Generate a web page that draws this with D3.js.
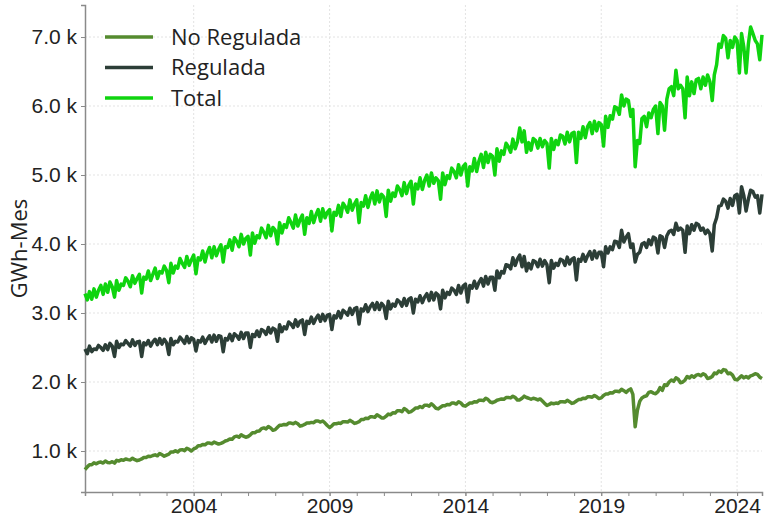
<!DOCTYPE html>
<html>
<head>
<meta charset="utf-8">
<script src="https://cdn.jsdelivr.net/npm/d3@7"></script>
<style>
  body { margin: 0; background: #fff; }
  svg { font-family: "Open Sans", Lato, sans-serif; }
  .grid line { stroke: #e3e3e3; stroke-dasharray: 2,2; }
  .axis path, .axis line { stroke: #8a8a8a; }
  .axis text { fill: #222; font-size: 21px; }
</style>
</head>
<body>
<div id="chart"></div>
<script>
// monthly GWh, Jan 2000 .. Dec 2024 (one row per year)
var noRegulada = [
  [730,770,800,800,830,815,835,840,825,855,835,830],
  [845,825,865,855,875,865,885,875,870,895,875,860],
  [870,885,905,905,925,920,935,945,930,965,945,925],
  [940,955,985,985,1005,985,1015,1020,1005,1040,1025,1000],
  [1030,1045,1075,1075,1095,1090,1115,1115,1105,1130,1115,1100],
  [1110,1125,1145,1155,1175,1170,1205,1215,1200,1235,1215,1200],
  [1210,1235,1265,1265,1285,1290,1325,1335,1320,1355,1335,1300],
  [1310,1345,1375,1375,1385,1380,1405,1405,1395,1415,1395,1360],
  [1370,1385,1405,1405,1415,1410,1435,1435,1420,1435,1405,1370],
  [1340,1365,1395,1395,1405,1400,1425,1425,1420,1445,1425,1400],
  [1410,1425,1455,1455,1475,1470,1495,1495,1490,1525,1505,1480],
  [1480,1505,1535,1525,1555,1550,1585,1585,1570,1615,1595,1560],
  [1570,1595,1625,1625,1645,1630,1665,1665,1650,1685,1655,1620],
  [1610,1635,1655,1655,1675,1670,1695,1695,1680,1715,1695,1660],
  [1650,1675,1695,1695,1715,1710,1735,1735,1730,1765,1745,1710],
  [1700,1715,1735,1745,1755,1750,1775,1775,1770,1795,1775,1740],
  [1740,1765,1795,1775,1765,1750,1765,1755,1740,1755,1725,1690],
  [1660,1675,1695,1685,1695,1690,1715,1715,1710,1735,1715,1690],
  [1700,1725,1745,1745,1765,1760,1785,1785,1780,1805,1785,1760],
  [1770,1805,1825,1825,1845,1840,1865,1865,1860,1895,1875,1850],
  [1880,1900,1820,1350,1590,1720,1770,1790,1800,1850,1860,1840],
  [1830,1860,1920,1880,1960,1950,2000,2030,2010,2060,2040,1990],
  [2000,2030,2080,2060,2090,2070,2100,2110,2090,2120,2100,2050],
  [2060,2080,2130,2120,2160,2140,2180,2170,2120,2130,2100,2040],
  [2030,2060,2090,2060,2080,2060,2090,2100,2120,2110,2070,2050]
];
var regulada = [
  [2480,2410,2520,2440,2480,2470,2530,2500,2460,2540,2470,2560],
  [2520,2370,2590,2500,2550,2540,2600,2560,2520,2610,2530,2580],
  [2590,2370,2570,2540,2600,2520,2580,2620,2540,2630,2550,2620],
  [2570,2400,2630,2540,2590,2580,2650,2610,2560,2660,2570,2640],
  [2620,2450,2600,2580,2650,2560,2620,2670,2580,2680,2590,2670],
  [2660,2440,2630,2610,2690,2600,2700,2670,2620,2720,2630,2710],
  [2710,2500,2690,2660,2740,2660,2760,2740,2690,2790,2710,2780],
  [2760,2590,2830,2730,2800,2770,2870,2840,2790,2900,2810,2880],
  [2900,2690,2880,2850,2940,2850,2920,2970,2880,2980,2890,2970],
  [2980,2760,2960,2930,3020,2930,3040,3010,2970,3070,2980,3060],
  [3080,2840,3060,3030,3120,3020,3090,3140,3050,3150,3050,3140],
  [3100,2920,3170,3060,3130,3100,3190,3160,3100,3210,3110,3200],
  [3220,3000,3200,3160,3250,3150,3230,3280,3180,3300,3190,3290],
  [3260,3060,3330,3220,3300,3270,3360,3330,3270,3400,3290,3390],
  [3420,3160,3400,3360,3460,3360,3440,3500,3390,3530,3420,3520],
  [3520,3330,3610,3510,3600,3580,3700,3690,3640,3800,3690,3780],
  [3840,3670,3820,3610,3720,3640,3760,3740,3670,3780,3680,3760],
  [3700,3440,3760,3650,3720,3690,3780,3760,3690,3810,3710,3780],
  [3800,3480,3780,3750,3850,3750,3830,3890,3780,3900,3800,3880],
  [3880,3670,3960,3870,3960,3920,4040,4030,3950,4200,4030,4100],
  [4150,3950,4000,3740,3850,3880,4000,4020,3950,4060,3990,4100],
  [4080,3870,4120,4100,3950,4120,4180,4200,4140,4300,4200,4230],
  [4200,3880,4260,4150,4280,4200,4300,4280,4200,4230,4150,4200],
  [4150,3900,4280,4380,4550,4560,4650,4620,4520,4660,4560,4700],
  [4720,4450,4830,4700,4480,4650,4780,4760,4680,4700,4450,4720]
];
var total = [
  [3280,3190,3310,3200,3350,3230,3330,3400,3270,3420,3300,3450],
  [3380,3230,3470,3330,3420,3400,3510,3460,3380,3540,3430,3500],
  [3560,3290,3520,3490,3610,3470,3560,3650,3500,3600,3580,3680],
  [3620,3440,3720,3580,3680,3650,3790,3720,3660,3820,3690,3770],
  [3840,3570,3800,3770,3900,3740,3870,3950,3800,3960,3830,3920],
  [3990,3740,3960,3950,4060,3910,4090,4040,3960,4140,4000,4080],
  [4110,3840,4160,4010,4120,4090,4230,4170,4090,4270,4120,4240],
  [4200,4000,4310,4160,4280,4240,4380,4310,4230,4420,4260,4350],
  [4420,4140,4380,4300,4470,4310,4420,4500,4330,4510,4380,4460],
  [4500,4190,4460,4420,4560,4400,4590,4540,4460,4640,4490,4580],
  [4640,4310,4600,4550,4700,4530,4660,4740,4580,4770,4610,4720],
  [4680,4400,4780,4620,4740,4690,4840,4790,4700,4890,4730,4850],
  [4910,4580,4870,4800,4960,4790,4920,5000,4840,5030,4880,4960],
  [4920,4650,5030,4860,4990,4950,5100,5050,4960,5150,5000,5120],
  [5160,4840,5120,5060,5240,5050,5200,5300,5110,5330,5180,5300],
  [5270,5000,5380,5200,5350,5300,5460,5410,5330,5520,5380,5480],
  [5680,5480,5640,5330,5470,5360,5530,5500,5390,5530,5410,5500],
  [5460,5100,5530,5370,5500,5440,5580,5560,5450,5620,5480,5600],
  [5620,5180,5620,5530,5700,5540,5700,5760,5600,5780,5640,5760],
  [5730,5420,5850,5690,5860,5810,5990,5970,5880,6160,6000,6100],
  [6080,5850,5950,5120,5500,5460,5820,5850,5700,5900,5830,5950],
  [6000,5600,6050,6000,5650,6100,6250,6280,6150,6520,6250,6300],
  [6250,5830,6420,6150,6350,6180,6380,6400,6250,6420,6300,6450],
  [6350,6080,6450,6600,6900,6850,7020,6980,6700,6950,6850,7000],
  [6950,6480,7050,6850,6480,6900,7145,7050,6950,6900,6670,7030]
];
var seriesNames = ["No Regulada", "Regulada", "Total"];
var seriesColors = ["#558b2f", "#2c3e37", "#0fd40f"];
var yTicks = [1000, 2000, 3000, 4000, 5000, 6000, 7000];
var xTickYears = [2004, 2009, 2014, 2019, 2024];

var width = 768, height = 523;
var margin = {top: 5, right: 6, bottom: 31, left: 85};

var months = d3.timeMonth.range(new Date(2000, 0, 1), new Date(2025, 0, 1));
var series = [noRegulada, regulada, total].map(function(s, i) {
  return {name: seriesNames[i], color: seriesColors[i],
    values: s.flat().map(function(v, j) { return {date: months[j], value: v}; })};
});

var svg = d3.select("#chart").append("svg")
  .attr("width", width)
  .attr("height", height);

var x = d3.scaleTime()
  .domain([months[0], months[months.length - 1]])
  .range([margin.left, width - margin.right]);

var y = d3.scaleLinear()
  .domain([406, 7464])
  .range([height - margin.bottom, margin.top]);

// grid
svg.append("g").attr("class", "grid")
  .selectAll("line").data(yTicks).enter().append("line")
    .attr("x1", margin.left).attr("x2", width - margin.right)
    .attr("y1", function(d) { return y(d); }).attr("y2", function(d) { return y(d); });
svg.append("g").attr("class", "grid")
  .selectAll("line").data(xTickYears).enter().append("line")
    .attr("y1", margin.top).attr("y2", height - margin.bottom)
    .attr("x1", function(d) { return x(new Date(d, 0, 1)); })
    .attr("x2", function(d) { return x(new Date(d, 0, 1)); });

// axes
svg.append("g").attr("class", "axis")
  .attr("transform", "translate(0," + (height - margin.bottom) + ")")
  .call(d3.axisBottom(x).ticks(d3.timeYear.every(1)).tickSize(4).tickFormat(""))
  .call(function(g) { g.select(".domain").attr("stroke-width", 1.5); });

svg.append("g").attr("class", "axis")
  .attr("transform", "translate(0," + (height - margin.bottom) + ")")
  .call(d3.axisBottom(x)
    .tickValues(xTickYears.map(function(d) { return new Date(d, 0, 1); }))
    .tickSize(4).tickPadding(2)
    .tickFormat(d3.timeFormat("%Y")))
  .call(function(g) { g.select(".domain").remove(); });

svg.append("g").attr("class", "axis")
  .attr("transform", "translate(" + margin.left + ",0)")
  .call(d3.axisLeft(y).tickValues(yTicks).tickSize(4).tickPadding(4)
    .tickFormat(function(d) { return d3.format(".1f")(d / 1000) + " k"; }))
  .call(function(g) { g.select(".domain").attr("stroke-width", 1.5); });

svg.append("text")
  .attr("transform", "translate(27," + ((margin.top + height - margin.bottom) / 2) + ") rotate(-90)")
  .attr("text-anchor", "middle")
  .attr("font-size", 22)
  .attr("fill", "#222")
  .text("GWh-Mes");

// lines
var line = d3.line()
  .x(function(d) { return x(d.date); })
  .y(function(d) { return y(d.value); });

svg.append("g").selectAll("path")
  .data(series).enter().append("path")
    .attr("fill", "none")
    .attr("stroke", function(d) { return d.color; })
    .attr("stroke-width", 3.5)
    .attr("stroke-linejoin", "round")
    .attr("d", function(d) { return line(d.values); });

// legend
var legend = svg.append("g").attr("transform", "translate(105,37)");
var item = legend.selectAll("g").data(series).enter().append("g")
  .attr("transform", function(d, i) { return "translate(0," + (i * 30.5) + ")"; });
item.append("line")
  .attr("x1", 0).attr("x2", 48)
  .attr("stroke", function(d) { return d.color; })
  .attr("stroke-width", 3.5);
item.append("text")
  .attr("x", 66).attr("dy", "0.35em")
  .attr("font-size", 22)
  .attr("fill", "#222")
  .text(function(d) { return d.name; });
</script>
</body>
</html>
